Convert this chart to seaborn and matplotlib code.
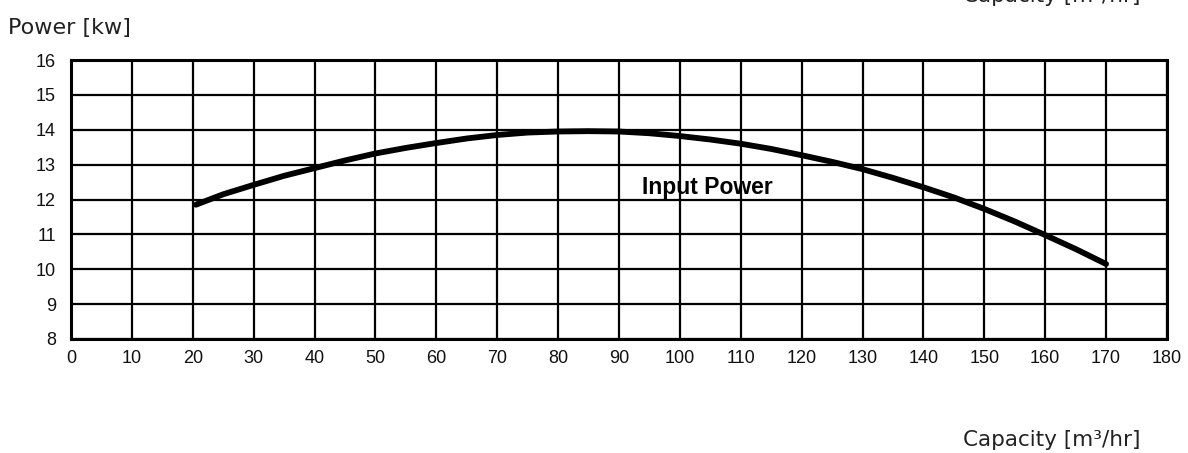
import seaborn as sns
import matplotlib.pyplot as plt
import pandas as pd

# capacity [m3/hr] vs input power [kw]
capacity = [20.5, 25, 30, 35, 40, 45, 50, 55, 60, 65, 70, 75, 80, 85, 90, 95,
            100, 105, 110, 115, 120, 125, 130, 135, 140, 145, 150, 155, 160, 165, 170]
power = [11.85, 12.15, 12.42, 12.68, 12.9, 13.12, 13.32, 13.48, 13.62, 13.75, 13.85, 13.92, 13.95, 13.96, 13.95, 13.9,
         13.82, 13.72, 13.6, 13.45, 13.27, 13.08, 12.87, 12.62, 12.35, 12.06, 11.73, 11.37, 10.98, 10.58, 10.15]

xticks = list(range(0, 181, 10))
yticks = list(range(8, 17))

df = pd.DataFrame({'Capacity': capacity, 'Power': power})

sns.set_style('white')
plt.rcParams['font.family'] = ['Liberation Sans', 'DejaVu Sans']

fig = plt.figure(figsize=(11.88, 4.53), dpi=100)
ax = fig.add_axes([0.0598, 0.2517, 0.9225, 0.6158])

sns.lineplot(data=df, x='Capacity', y='Power', ax=ax, color='black', linewidth=4.2,
             solid_capstyle='round', zorder=3)

ax.set_xlim(0, 180)
ax.set_ylim(8, 16)
ax.set_xticks(xticks)
ax.set_yticks(yticks)
ax.tick_params(length=0, labelsize=13, colors='#111111')
ax.tick_params(axis='x', pad=8)
ax.tick_params(axis='y', pad=11)
ax.grid(True, color='black', linewidth=1.6)
for s in ax.spines.values():
    s.set_visible(True)
    s.set_color('black')
    s.set_linewidth(2.2)
ax.set_xlabel('')
ax.set_ylabel('')

ax.text(104.5, 12.33, 'Input Power', fontsize=16.5, fontweight='bold', ha='center', va='center', color='black')

fig.text(0.007, 0.938, 'Power [kw]', fontsize=16, family='DejaVu Sans', color='#222222', va='center')
fig.text(0.96, 0.028, 'Capacity [m³/hr]', fontsize=15.5, family='DejaVu Sans', color='#222222', ha='right', va='center')
fig.text(0.96, 1.008, 'Capacity [m³/hr]', fontsize=15.5, family='DejaVu Sans', color='#222222', ha='right', va='center')

fig.savefig('out.png', dpi=100)
